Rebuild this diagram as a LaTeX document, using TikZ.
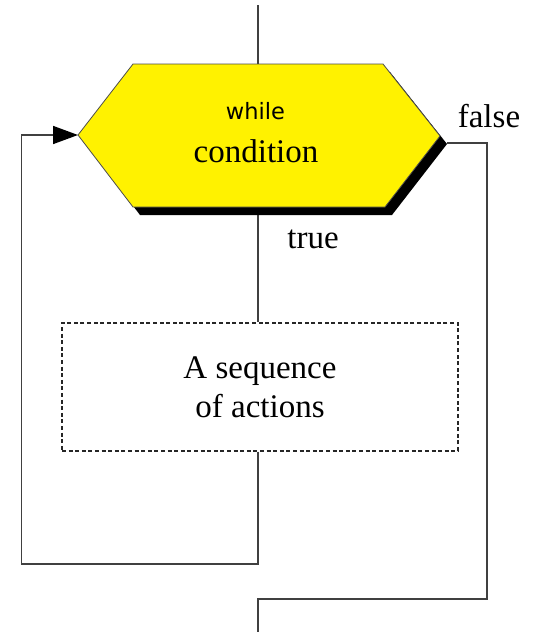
\documentclass[tikz,border=0pt]{standalone}
\usepackage{fontspec}
\setmainfont{Liberation Serif}
\newfontfamily\kwfont{DejaVu Sans}
\usetikzlibrary{arrows.meta}
\begin{document}
\begin{tikzpicture}[x=1pt,y=1pt,
  flow/.style={draw=black!75,line width=1.6pt,line join=miter},
  hexbody/.style={fill=yellow,draw=black!70,line width=0.8pt,line join=miter},
  hexshadow/.style={fill=black},
  actbox/.style={draw=black!85,line width=1.4pt,dash pattern=on 4pt off 2.6pt,
    minimum width=396pt,minimum height=128pt,inner sep=0pt,align=center,
    font=\fontsize{33}{39}\selectfont},
  lbl/.style={font=\fontsize{33}{39}\selectfont,anchor=base,inner sep=0pt},
  kw/.style={font=\kwfont\fontsize{22.5}{26}\selectfont,anchor=base,inner sep=0pt}]
\useasboundingbox (0,0) rectangle (537,-635);

% decision hexagon: corner points
\coordinate (hexW) at (78,-135);
\coordinate (hexNW) at (133,-64);
\coordinate (hexNE) at (383,-64);
\coordinate (hexE) at (440,-136);
\coordinate (hexSE) at (385,-207);
\coordinate (hexSW) at (133,-207);
\coordinate (hexN) at (258,-64);
\coordinate (hexS) at (258,-207);
\coordinate (shE) at (447,-143);

% loop body
\node[actbox] (acts) at (260,-387) {A sequence\\of actions};

% connector end points
\coordinate (entry) at (258,-5);
\coordinate (exit) at (258,-632);
\coordinate (backBL) at (21.5,-564);
\coordinate (falseR) at (487,-599);

% connectors
\draw[flow] (entry) -- (hexN);
\draw[flow] (hexS) -- (acts.north -| hexS);
\draw[flow,-{Triangle[length=25pt,width=18pt,color=black]}]
  (acts.south -| hexS) |- (backBL) |- (hexW);
\draw[flow] (shE) -| (falseR) -| (exit);

% hexagon with drop shadow
\fill[hexshadow] ([shift={(7,-8)}]hexW) -- ([shift={(7,-8)}]hexNW)
  -- ([shift={(7,-8)}]hexNE) -- ([shift={(7,-8)}]hexE)
  -- ([shift={(7,-8)}]hexSE) -- ([shift={(7,-8)}]hexSW) -- cycle;
\draw[hexbody] (hexW) -- (hexNW) -- (hexNE) -- (hexE) -- (hexSE) -- (hexSW) -- cycle;

% labels
\node[kw] (kwwhile) at (255.5,-119) {while};
\node[lbl] (cond) at (256,-162) {condition};
\node[lbl] (ltrue) at (313,-248) {true};
\node[lbl] (lfalse) at (489,-127) {false};
\end{tikzpicture}
\end{document}
